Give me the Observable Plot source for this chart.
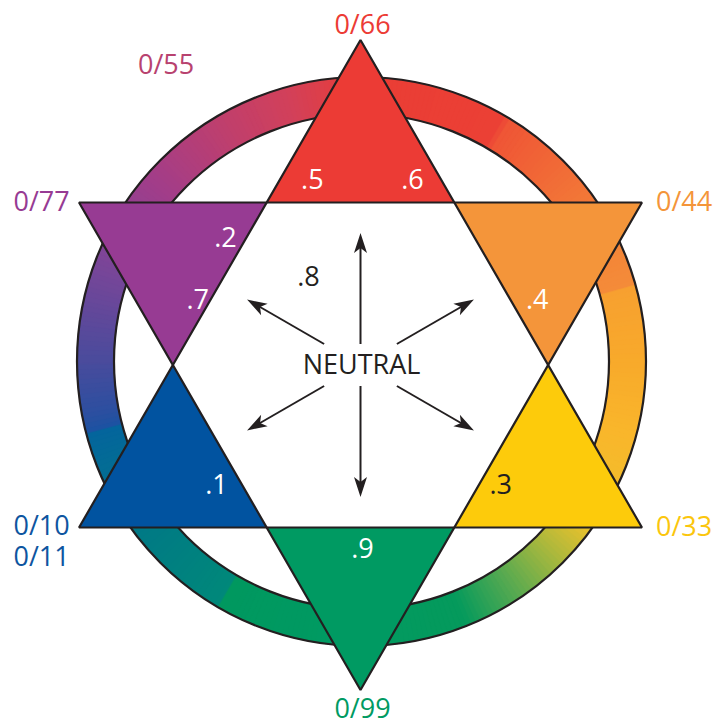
<!DOCTYPE html>
<html><head><meta charset="utf-8">
<script src="https://cdn.jsdelivr.net/npm/d3@7"></script>
<script src="https://cdn.jsdelivr.net/npm/@observablehq/plot@0.6"></script>
<style>body{margin:0;background:#fff} svg{display:block}</style>
</head><body><div id="chart"></div>
<script>
// ---------- DATA ----------
const hues = ["red", "orange", "yellow", "green", "blue", "purple"];
const hueAngles = [90, 30, -30, -90, -150, 150];
const hueColors = ["#ec3b35", "#f4953a", "#fdcb0b", "#009a62", "#0153a0", "#973b93"];
const hueLabels = ["0/66", "0/44", "0/33", "0/99", ["0/10", "0/11"], "0/77"];
const hueLabelColors = ["#ec3b35", "#f4953a", "#fbc60d", "#009a62", "#0e55a0", "#973b93"];
const extraLabels = ["0/55"];
const extraLabelColors = ["#b8426f"];
const numLabels = [".5", ".6", ".2", ".7", ".8", ".4", ".1", ".3", ".9"];
const numLabelDark = [false, false, false, false, true, false, false, true, false];
const centerLabel = "NEUTRAL";
const arrowDirs = [90, 30, -30, -90, -150, 150];
// ring colour stops (angle in degrees, counter-clockwise from east)
const ringStopAngles = [-180, -168, -165.5, -165, -140, -120.5, -120, -95, -68, -55, -45, -35, -15, 0, 16, 16.5, 30, 59, 60, 90, 106, 120, 140, 158, 180];
const ringStopColors = ["#4a4b9c", "#2a4fa0", "#1d52a2", "#04659c", "#007b84", "#00887a", "#00985f", "#009a62", "#059a5c", "#5eab4f", "#a8b83d", "#efc12b", "#f9b62b", "#f8aa2b", "#f7a030", "#f48b39", "#f38137", "#ef5536", "#eb4035", "#ea3d35", "#d2405a", "#c03f6c", "#a13d8a", "#7e4598", "#4a4b9c"];

// ---------- LAYOUT ----------
const W = 713, H = 722;
const cx = 360, cy = 364.5, R = 325, r = R / Math.sqrt(3);
const rcx = 361, rcy = 361, ringOut = 284.5, ringIn = 247.5;
const ink = "#231f20";
const FONT = "Futura, 'Open Sans', sans-serif";
const rad = a => a * Math.PI / 180;
const P = (a, d, ox = cx, oy = cy) => ({x: ox + d * Math.cos(rad(a)), y: oy - d * Math.sin(rad(a))});

// ring segments
const ringColor = d3.scaleLinear().domain(ringStopAngles).range(ringStopColors).interpolate(d3.interpolateRgb);
const ringPts = [];
for (let k = -180; k < 180; k += 1) {
  const a0 = k - 0.3, a1 = k + 1.3, c = ringColor(k + 0.5);
  [P(a0, ringOut, rcx, rcy), P(a1, ringOut, rcx, rcy), P(a1, ringIn, rcx, rcy), P(a0, ringIn, rcx, rcy)]
    .forEach(p => ringPts.push({...p, id: "s" + k, color: c}));
}

// point triangles
const triPts = [];
hues.forEach((h, i) => {
  const a = hueAngles[i];
  [P(a, R), P(a + 30, r), P(a - 30, r)].forEach(p => triPts.push({...p, id: h, color: hueColors[i]}));
});
// two big triangles (outline)
const bigPts = [];
[[90, -30, -150], [-90, 30, 150]].forEach((tri, j) => tri.forEach(a => bigPts.push({...P(a, R), id: "T" + j})));

// arrows
const arrows = arrowDirs.map(a => {
  const s = Math.abs(a) === 90 ? 21 : 42;
  const t = Math.abs(a) === 90 ? 132 : 131;
  const p0 = P(a, s), p1 = P(a, t - 13), tip = P(a, t);
  return {x1: p0.x, y1: p0.y, x2: p1.x, y2: p1.y, tx: tip.x, ty: tip.y, rot: 90 - a};
});
const arrowHead = {draw(ctx) { ctx.moveTo(0, 0); ctx.lineTo(-6.5, 20); ctx.lineTo(0, 15); ctx.lineTo(6.5, 20); ctx.closePath(); }};

// label positions
const hueLabelPos = hues.map((h, i) => {
  const v = P(hueAngles[i], R);
  if (i === 0) return {x: v.x + 2, y: v.y - 15, anchor: "middle", la: "middle"};
  if (i === 3) return {x: v.x + 2, y: v.y + 19, anchor: "middle", la: "middle"};
  if (i === 1 || i === 2) return {x: v.x + 14, y: v.y, anchor: "start", la: "middle"};
  if (i === 4) return {x: 13, y: v.y - 15, anchor: "start", la: "top"};
  return {x: 13, y: v.y, anchor: "start", la: "middle"};
});
const hueText = hues.map((h, i) => ({...hueLabelPos[i], text: [].concat(hueLabels[i]).join("\n"), color: hueLabelColors[i]}));
const extraPos = [P(123, 357)];
const extraText = extraLabels.map((t, i) => ({...extraPos[i], text: t, color: extraLabelColors[i]}));
const numPolar = [[104.6, 191], [74.3, 192], [136.9, 185], [158.4, 175], [120.7, 102], [20, 188], [-140, 188], [-40.7, 185], [-89.4, 184]];
const numText = numLabels.map((t, i) => ({...P(numPolar[i][0], numPolar[i][1]), text: t, color: numLabelDark[i] ? ink : "#ffffff"}));

const chart = Plot.plot({
  width: W, height: H, margin: 0,
  x: {domain: [0, W], range: [0, W], axis: null},
  y: {domain: [0, H], range: [0, H], axis: null},
  color: {type: "identity"},
  style: {background: "#fff"},
  marks: [
    Plot.line(ringPts, {x: "x", y: "y", z: "id", fill: "color", stroke: "color", strokeWidth: 0.3, curve: "linear-closed"}),
    Plot.dot([0], {x: () => rcx, y: () => rcy, r: ringOut, stroke: ink, strokeWidth: 2.2, fill: "none"}),
    Plot.dot([0], {x: () => rcx, y: () => rcy, r: ringIn, stroke: ink, strokeWidth: 2.2, fill: "none"}),
    Plot.line(triPts, {x: "x", y: "y", z: "id", fill: "color", stroke: null, curve: "linear-closed"}),
    Plot.line(bigPts, {x: "x", y: "y", z: "id", fill: "none", stroke: ink, strokeWidth: 2.2, strokeLinejoin: "miter", curve: "linear-closed"}),
    Plot.link(arrows, {x1: "x1", y1: "y1", x2: "x2", y2: "y2", stroke: ink, strokeWidth: 2}),
    Plot.dot(arrows, {x: "tx", y: "ty", symbol: arrowHead, r: 5, fill: ink, stroke: null, rotate: "rot"}),
    Plot.text(hueText, {x: "x", y: "y", text: "text", fill: "color", textAnchor: "start", filter: d => d.anchor === "start" && d.la === "middle", fontSize: 27, fontFamily: FONT}),
    Plot.text(hueText, {x: "x", y: "y", text: "text", fill: "color", textAnchor: "start", lineAnchor: "top", lineHeight: 1.15, filter: d => d.la === "top", fontSize: 27, fontFamily: FONT}),
    Plot.text(hueText, {x: "x", y: "y", text: "text", fill: "color", filter: d => d.anchor === "middle", fontSize: 27, fontFamily: FONT}),
    Plot.text(extraText, {x: "x", y: "y", text: "text", fill: "color", fontSize: 27, fontFamily: FONT}),
    Plot.text(numText, {x: "x", y: "y", text: "text", fill: "color", fontSize: 27, fontFamily: FONT}),
    Plot.text([centerLabel], {x: () => cx + 1, y: () => cy, text: d => d, fill: ink, fontSize: 27, fontFamily: FONT})
  ]
});
document.getElementById("chart").appendChild(chart);
</script>
</body></html>
